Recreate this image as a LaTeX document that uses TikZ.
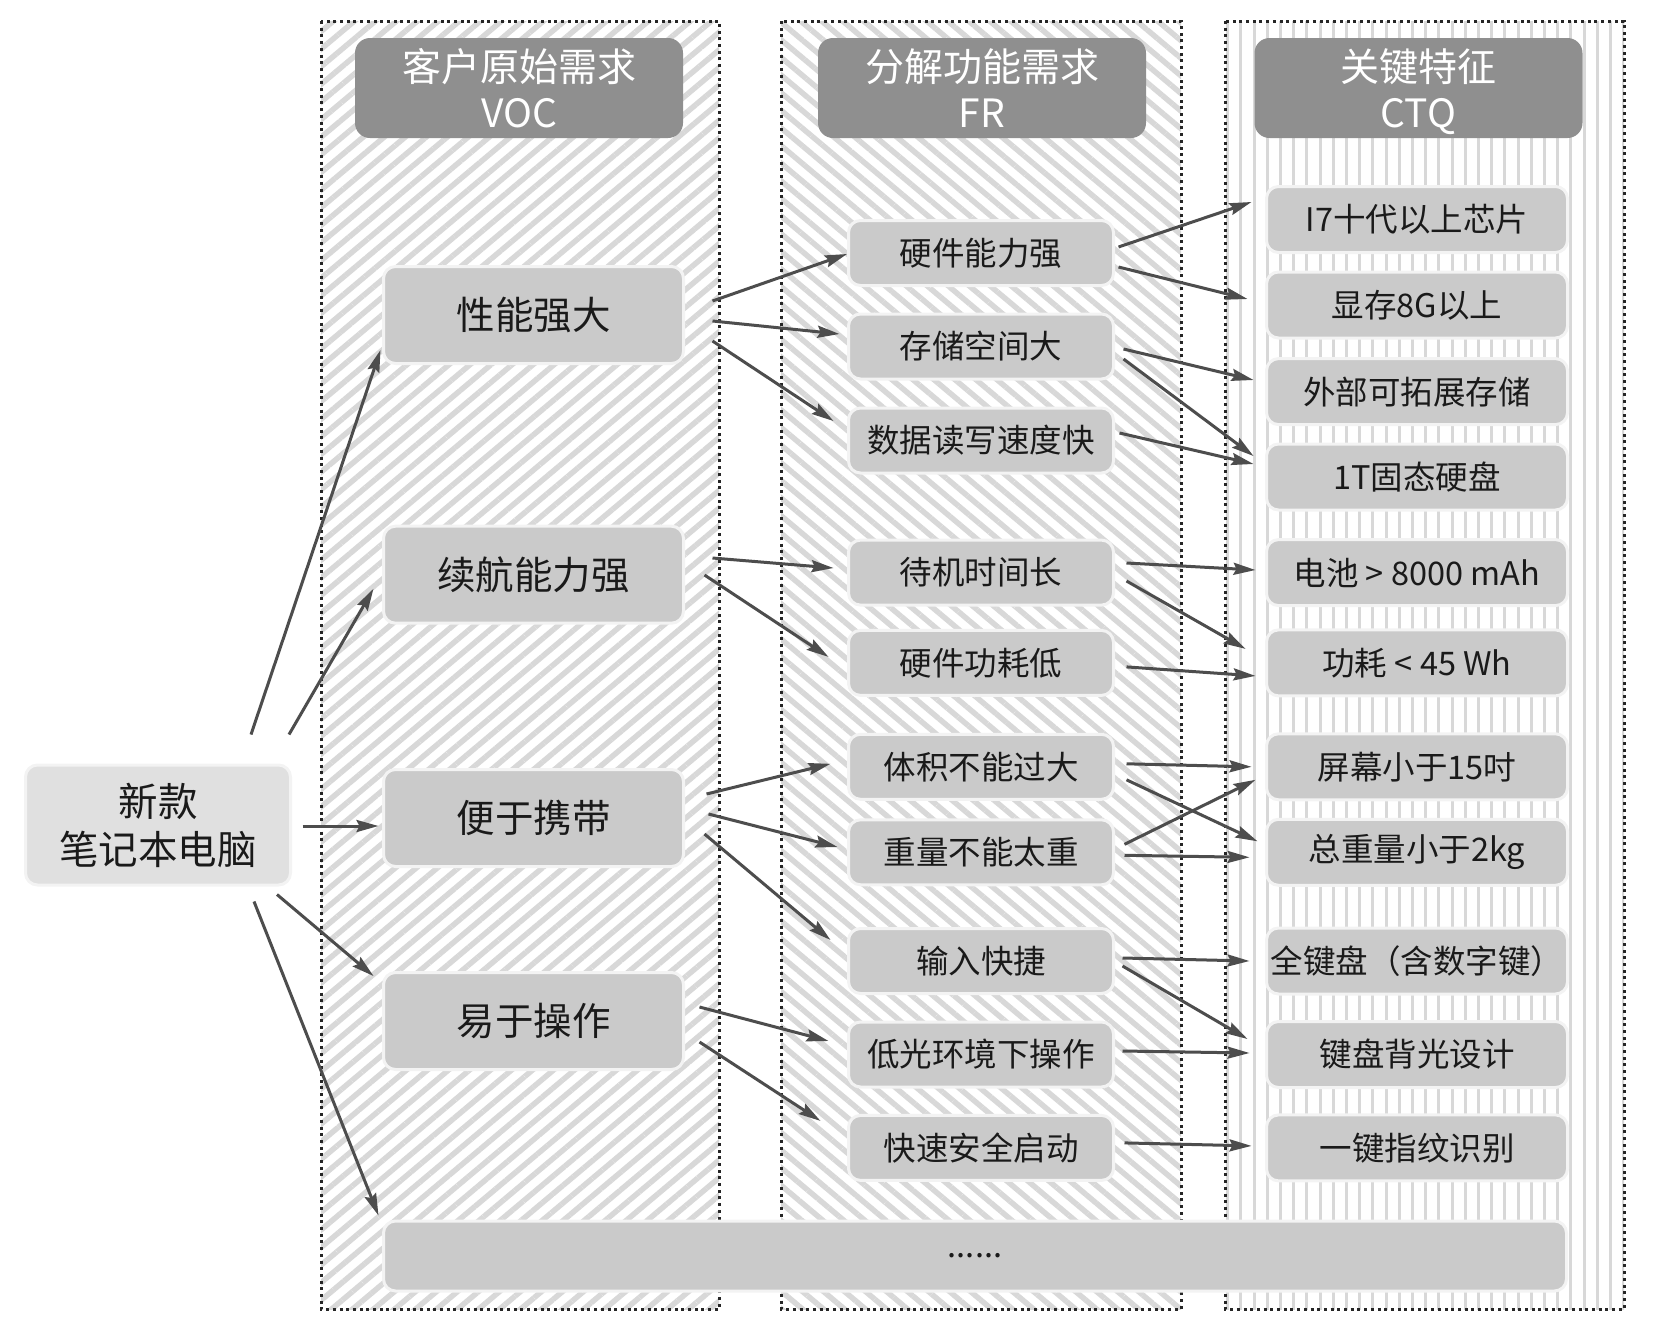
\documentclass[tikz,border=0pt]{standalone}
\usepackage{fontspec}
\setmainfont{Noto Sans CJK SC}
\usetikzlibrary{calc,arrows.meta,patterns.meta}
\definecolor{hatch}{HTML}{D8D8D8}
\definecolor{nodefill}{HTML}{CACACA}
\definecolor{rootfill}{HTML}{E0E0E0}
\definecolor{nodeedge}{HTML}{F3F3F3}
\definecolor{headfill}{HTML}{8F8F8F}
\definecolor{arrowc}{HTML}{4D4D4D}
\definecolor{txt}{HTML}{1A1A1A}
\newcommand\conn[4]{\draw[arr] ($(#1)+(#2)$) -- ($(#3)+(#4)$);}
\begin{document}
\begin{tikzpicture}[x=1pt,y=-1pt,
 panel/.style={draw=black!85, line width=3pt, dash pattern=on 3pt off 3.7pt},
 box/.style={rounded corners=12pt, fill=nodefill, draw=nodeedge, line width=3pt, inner sep=0pt, text=txt},
 vocbox/.style={box, minimum width=300pt, minimum height=97pt, font=\fontsize{38.5}{46}\selectfont},
 frbox/.style={box, minimum width=265pt, minimum height=65pt, font=\fontsize{32.5}{39}\selectfont},
 ctqbox/.style={box, minimum width=301pt, minimum height=66pt, font=\fontsize{32.5}{39}\selectfont},
 head/.style={rounded corners=15pt, fill=headfill, text=white, minimum width=328pt, minimum height=100pt, inner sep=0pt, align=center, font=\fontsize{39}{46}\selectfont},
 arr/.style={draw=arrowc, line width=3pt, -{Stealth[length=22pt,width=12pt,inset=3pt]}}
]
\useasboundingbox (0,0) rectangle (1655,1323);
% panels
\path[pattern={Lines[angle=40,distance=13.5pt,line width=5.5pt]}, pattern color=hatch] (321,21) rectangle (719,1309);
\path[pattern={Lines[angle=-40,distance=13.5pt,line width=5.5pt]}, pattern color=hatch] (781,21) rectangle (1181,1309);
\path[pattern={Lines[angle=90,distance=13.2pt,line width=3pt]}, pattern color=hatch] (1225,21) rectangle (1624,1309);
\draw[panel] (321,21) rectangle (719,1309);
\draw[panel] (781,21) rectangle (1181,1309);
\draw[panel] (1225,21) rectangle (1624,1309);
% headers
\node[head] (h1) at (519,88) {客户原始需求\\VOC};
\node[head] (h2) at (982,88) {分解功能需求\\FR};
\node[head] (h3) at (1418.5,88) {关键特征\\CT\smash{Q}};
% root
\node[box, fill=rootfill, minimum width=265pt, minimum height=120pt, align=center, font=\fontsize{39.5}{48}\selectfont] (root) at (158,825) {新款\\笔记本电脑};
% VOC
\node[vocbox] (v1) at (533.5,315) {性能强大};
\node[vocbox] (v2) at (533.5,574.7) {续航能力强};
\node[vocbox] (v3) at (533.5,818) {便于携带};
\node[vocbox] (v4) at (533.5,1021) {易于操作};
% FR
\node[frbox] (f1) at (981,253) {硬件能力强};
\node[frbox] (f2) at (981,346.5) {存储空间大};
\node[frbox] (f3) at (981,440.5) {数据读写速度快};
\node[frbox] (f4) at (981,572.6) {待机时间长};
\node[frbox] (f5) at (981,662.9) {硬件功耗低};
\node[frbox] (f6) at (981,766.8) {体积不能过大};
\node[frbox] (f7) at (981,852.3) {重量不能太重};
\node[frbox] (f8) at (981,961) {输入快捷};
\node[frbox] (f9) at (981,1054.5) {低光环境下操作};
\node[frbox] (f10) at (981,1147.9) {快速安全启动};
% CTQ
\node[ctqbox] (c1) at (1417,219.5) {I7十代以上芯片};
\node[ctqbox] (c2) at (1417,305) {显存8G以上};
\node[ctqbox] (c3) at (1417,391.6) {外部可拓展存储};
\node[ctqbox] (c4) at (1417,477) {1T固态硬盘};
\node[ctqbox] (c5) at (1417,572.6) {电池 > 8000 mAh};
\node[ctqbox] (c6) at (1417,662.9) {功耗 < 45 Wh};
\node[ctqbox] (c7) at (1417,766.8) {屏幕小于15吋};
\node[ctqbox] (c8) at (1417,852.3) {总重量小于2kg};
\node[ctqbox] (c9) at (1417,961) {全键盘（含数字键）};
\node[ctqbox] (c10) at (1417,1054.5) {键盘背光设计};
\node[ctqbox] (c11) at (1417,1147.9) {一键指纹识别};
% bottom
\node[box, minimum width=1183pt, minimum height=70pt, font=\fontsize{32.5}{39}\selectfont] (dots) at (975,1256) {......};
% arrows root -> VOC
\conn{root.north}{93,-29}{v1.west}{-1.5,35}
\conn{root.north}{131,-29}{v2.west}{-8.5,14}
\conn{root.east}{10.5,1}{v3.west}{-3.5,8}
\conn{root.south}{119,8}{v4.west}{-8.5,-45}
\conn{root.south}{96,15}{dots.north west}{-3.5,-4}
% VOC -> FR
\conn{v1.east}{27.5,-14}{f1.west}{0,1}
\conn{v1.east}{27.5,6}{f2.west}{-7.5,-12.5}
\conn{v1.east}{27.5,26}{f3.west}{-13.5,-19.5}
\conn{v2.east}{27.5,-16.7}{f4.west}{-13.5,-4.6}
\conn{v2.east}{19.5,0.3}{f5.west}{-18.5,-6}
\conn{v3.east}{21.5,-24}{f6.west}{-16.5,-3}
\conn{v3.east}{23.5,-4}{f7.west}{-9.5,-5.3}
\conn{v3.east}{19.5,16}{f8.west}{-16.5,-21}
\conn{v4.east}{14.5,-14}{f9.west}{-18.5,-13.5}
\conn{v4.east}{14.5,21}{f10.west}{-26.5,-27}
% FR -> CTQ
\conn{f1.east}{3.5,-6}{c1.west}{-13.5,-17.5}
\conn{f1.east}{3.5,14}{c2.west}{-17.5,-6}
\conn{f2.east}{8.5,2.5}{c3.west}{-11.5,-11.6}
\conn{f2.east}{8.5,12.5}{c4.west}{-11.5,-21}
\conn{f3.east}{4.5,-7.5}{c4.west}{-11.5,-13}
\conn{f4.east}{11.5,-9.6}{c5.west}{-9.5,-2.6}
\conn{f4.east}{11.5,8.4}{c6.west}{-19.5,-14}
\conn{f5.east}{11.5,4}{c6.west}{-9.5,13}
\conn{f6.east}{11.5,-3}{c7.west}{-13.5,0}
\conn{f6.east}{11.5,13}{c8.west}{-7.5,-11}
\conn{f7.east}{9.5,-8}{c7.west}{-9.5,13}
\conn{f7.east}{9.5,3}{c8.west}{-15.5,5}
\conn{f8.east}{7.5,-3}{c9.west}{-15.5,0}
\conn{f8.east}{7.5,5}{c10.west}{-17.5,-15.5}
\conn{f9.east}{7.5,-3.5}{c10.west}{-15.5,-1.5}
\conn{f10.east}{9.5,-5}{c11.west}{-13.5,-2}
\end{tikzpicture}
\end{document}
